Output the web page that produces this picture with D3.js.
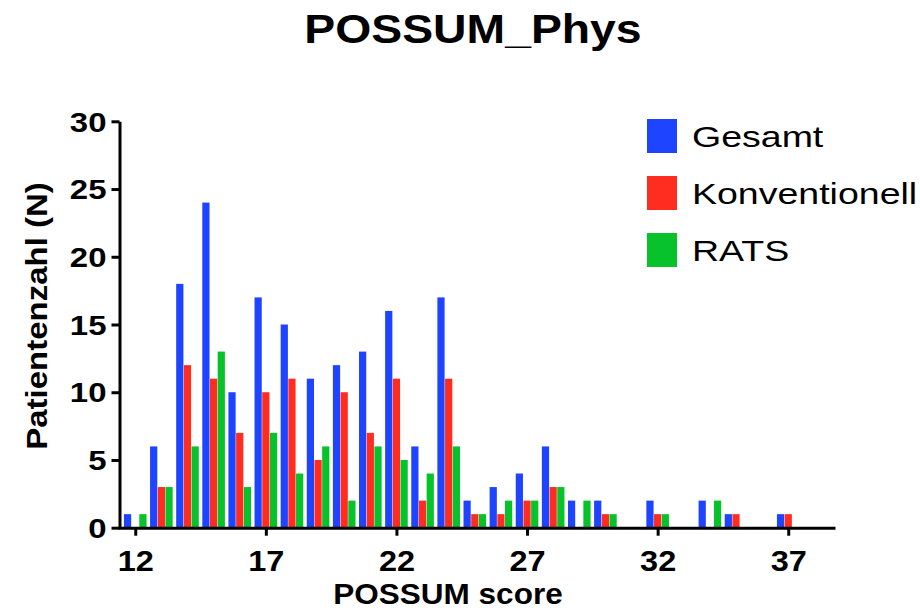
<!doctype html>
<html lang="de">
<head>
<meta charset="UTF-8">
<title>POSSUM_Phys</title>
<script src="https://cdn.jsdelivr.net/npm/d3@7"></script>
<style>
  body { margin: 0; background: #fff; }
  text { font-family: "Liberation Sans", Arial, Helvetica, sans-serif; fill: #000; }
</style>
</head>
<body>
<div id="chart"></div>
<script>
// POSSUM score 12..37
var scores = [12, 13, 14, 15, 16, 17, 18, 19, 20, 21, 22, 23, 24, 25, 26, 27, 28, 29, 30, 31, 32, 33, 34, 35, 36, 37];
var gesamt =        [1, 6, 18, 24, 10, 17, 15, 11, 12, 13, 16, 6, 17, 2, 3, 4, 6, 2, 2, 0, 2, 0, 2, 1, 0, 1];
var konventionell = [0, 3, 12, 11, 7, 10, 11, 5, 10, 7, 11, 2, 11, 1, 1, 2, 3, 0, 1, 0, 1, 0, 0, 1, 0, 1];
var rats =          [1, 3, 6, 13, 3, 7, 4, 6, 2, 6, 5, 4, 6, 1, 2, 2, 3, 2, 1, 0, 1, 0, 2, 0, 0, 0];
var seriesNames = ["Gesamt", "Konventionell", "RATS"];
var seriesColors = ["#1f44ff", "#ff2d1f", "#07c22a"];
var xTicks = [12, 17, 22, 27, 32, 37];
var yTicks = [0, 5, 10, 15, 20, 25, 30];

var width = 920, height = 611;

var svg = d3.select("#chart").append("svg")
    .attr("width", width)
    .attr("height", height);

var x = d3.scaleLinear().domain([11.34, 38.79]).range([118, 835]);
var y = d3.scaleLinear().domain([0, 30]).range([527.7, 121.3]);
var sub = d3.scaleBand().domain(seriesNames).range([-11.3, 11.3]).paddingInner(0.06);

// stretch text horizontally like the original (exported image was widened)
function stretch(sel, f) {
    sel.each(function() {
        var len = this.getComputedTextLength();
        d3.select(this).attr("textLength", len * f).attr("lengthAdjust", "spacingAndGlyphs");
    });
}

var all = [gesamt, konventionell, rats];
var rows = [];
scores.forEach(function(s, i) {
    seriesNames.forEach(function(n, k) {
        rows.push({score: s, series: n, value: all[k][i], color: seriesColors[k]});
    });
});

svg.append("g").selectAll("rect")
    .data(rows.filter(function(d) { return d.value > 0; }))
    .enter().append("rect")
    .attr("x", function(d) { return x(d.score) + sub(d.series); })
    .attr("y", function(d) { return y(d.value); })
    .attr("width", sub.bandwidth())
    .attr("height", function(d) { return y(0) - y(d.value); })
    .attr("fill", function(d) { return d.color; });

// axes
var xAxis = svg.append("g")
    .attr("transform", "translate(0," + y(0) + ")")
    .call(d3.axisBottom(x).tickValues(xTicks).tickSize(8).tickPadding(6).tickSizeOuter(0));
var yAxis = svg.append("g")
    .attr("transform", "translate(" + 119.5 + ",0)")
    .call(d3.axisLeft(y).tickValues(yTicks).tickSize(8).tickPadding(5).tickSizeOuter(0));

[xAxis, yAxis].forEach(function(a) {
    a.select(".domain").attr("stroke", "#000").attr("stroke-width", 3);
    a.selectAll(".tick line").attr("stroke", "#000").attr("stroke-width", 3);
});
xAxis.selectAll(".tick text")
    .attr("font-size", 29).attr("font-weight", "bold")
    .attr("font-family", null).attr("dy", "1.0em");
yAxis.selectAll(".tick text")
    .attr("font-size", 27).attr("font-weight", "bold")
    .attr("font-family", null).attr("dy", "0.36em");
xAxis.attr("font-family", null);
yAxis.attr("font-family", null);
stretch(xAxis.selectAll(".tick text"), 1.12);
stretch(yAxis.selectAll(".tick text"), 1.22);

// titles
var title = svg.append("text")
    .attr("x", 473).attr("y", 43)
    .attr("text-anchor", "middle")
    .attr("font-size", 41).attr("font-weight", "bold")
    .text("POSSUM_Phys");
stretch(title, 1.13);

var xTitle = svg.append("text")
    .attr("x", 448).attr("y", 604)
    .attr("text-anchor", "middle")
    .attr("font-size", 30).attr("font-weight", "bold")
    .text("POSSUM score");
stretch(xTitle, 1.05);

var yTitle = svg.append("text")
    .attr("transform", "translate(47,316) rotate(-90)")
    .attr("text-anchor", "middle")
    .attr("font-size", 30).attr("font-weight", "bold")
    .text("Patientenzahl (N)");
stretch(yTitle, 1.1);

// legend
var legend = svg.append("g").selectAll("g")
    .data(seriesNames)
    .enter().append("g")
    .attr("transform", function(d, i) { return "translate(647," + (119 + i * 57) + ")"; });
legend.append("rect")
    .attr("width", 30).attr("height", 34)
    .attr("fill", function(d, i) { return seriesColors[i]; });
legend.append("text")
    .attr("x", 45).attr("y", 28)
    .attr("font-size", 30)
    .text(function(d) { return d; });
stretch(legend.selectAll("text"), 1.25);
</script>
</body>
</html>
